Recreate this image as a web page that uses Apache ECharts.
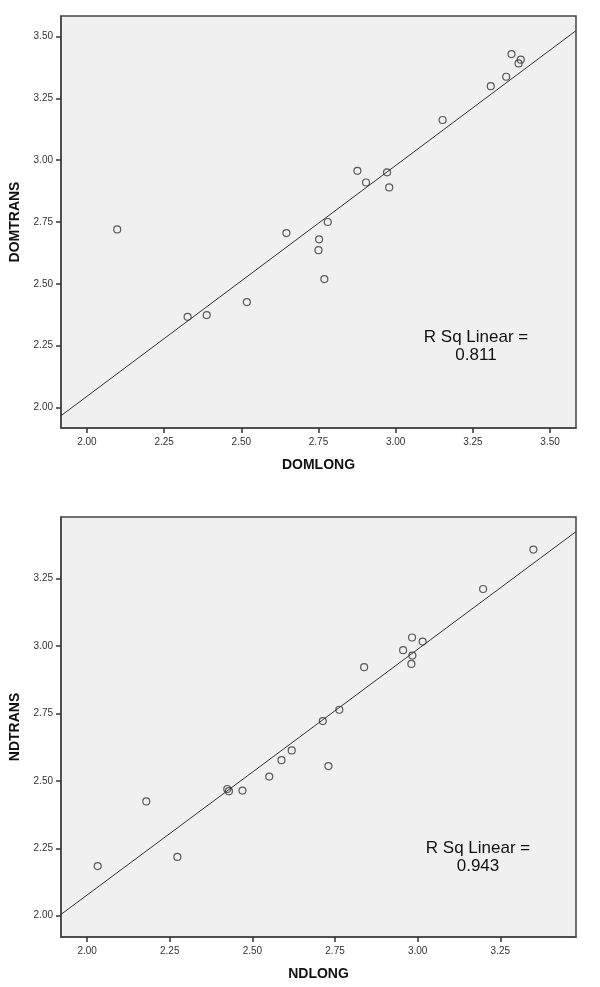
<!DOCTYPE html>
<html>
<head>
<meta charset="utf-8">
<script src="https://cdn.jsdelivr.net/npm/echarts@6/dist/echarts.min.js"></script>
<style>
html,body{margin:0;padding:0;background:#fff;}
#chart{width:600px;height:987px;}
</style>
</head>
<body>
<div id="chart"></div>
<script>
// ---- Data ----
const domLong  = [3.152,3.308,3.358,3.375,3.398,3.405,2.876,2.904,2.972,2.979,2.098,2.646,2.780,2.752,2.750,2.769,2.518,2.388,2.326];
const domTrans = [3.163,3.300,3.338,3.430,3.392,3.407,2.957,2.910,2.951,2.890,2.720,2.705,2.750,2.680,2.636,2.519,2.426,2.373,2.366];
const ndLong   = [3.350,3.198,2.983,3.015,2.956,2.984,2.981,2.838,2.763,2.713,2.619,2.588,2.730,2.551,2.424,2.429,2.470,2.179,2.032,2.273];
const ndTrans  = [3.358,3.212,3.032,3.017,2.985,2.965,2.934,2.922,2.764,2.722,2.613,2.577,2.555,2.516,2.470,2.462,2.464,2.424,2.184,2.218];
// fit lines [intercept, slope] as drawn
const domFit = [0.175, 0.9346];
const ndFit  = [0.254, 0.9114];
const domR2 = '0.811';
const ndR2  = '0.943';
// axis ranges and tick labels
const domRange = [1.916, 3.584];
const ndRange  = [1.921, 3.479];
const domTicks = [2.00,2.25,2.50,2.75,3.00,3.25,3.50];
const ndTicks  = [2.00,2.25,2.50,2.75,3.00,3.25];

const zip = (a,b) => a.map((v,i)=>[v,b[i]]);
const fitLine = (f, r) => [[r[0], f[0]+f[1]*r[0]], [r[1], f[0]+f[1]*r[1]]];

const FONT = 'Liberation Sans, Arial, sans-serif';
function axis(gi, name, range, ticks, isY){
  return {
    type:'value', gridIndex:gi, min:range[0], max:range[1],
    name:name, nameLocation:'middle', nameGap: isY?31:30,
    nameTextStyle:{fontFamily:FONT,fontWeight:'bold',fontSize:14,color:'#111'},
    axisLine:{show:true,onZero:false,lineStyle:{color:'#444',width:1.5}},
    axisTick:{show:true,length:5,customValues:ticks,lineStyle:{color:'#333',width:1.5}},
    axisLabel:{show:true,customValues:ticks,margin:isY?8:9,fontFamily:FONT,fontSize:10,color:'#333',
      formatter:v=>Number(v).toFixed(2)},
    splitLine:{show:false}
  };
}
const chart = echarts.init(document.getElementById('chart'));
const scatterStyle = {symbol:'circle',symbolSize:7,itemStyle:{color:'rgba(0,0,0,0)',borderColor:'#333',borderWidth:1.2}};
chart.setOption({
  animation:false,
  backgroundColor:'#fff',
  grid:[
    {left:61,top:16,width:515,height:412,show:true,backgroundColor:'#f0f0f0',borderColor:'#444',borderWidth:1.5},
    {left:61,top:517,width:515,height:420,show:true,backgroundColor:'#f0f0f0',borderColor:'#444',borderWidth:1.5}
  ],
  xAxis:[axis(0,'DOMLONG',domRange,domTicks,false), axis(1,'NDLONG',ndRange,ndTicks,false)],
  yAxis:[axis(0,'DOMTRANS',domRange,domTicks,true), axis(1,'NDTRANS',ndRange,ndTicks,true)],
  series:[
    {type:'line',xAxisIndex:0,yAxisIndex:0,data:fitLine(domFit,domRange),symbol:'none',lineStyle:{color:'#333',width:1},clip:true,silent:true},
    Object.assign({type:'scatter',xAxisIndex:0,yAxisIndex:0,data:zip(domLong,domTrans)},scatterStyle),
    {type:'line',xAxisIndex:1,yAxisIndex:1,data:fitLine(ndFit,ndRange),symbol:'none',lineStyle:{color:'#333',width:1},clip:true,silent:true},
    Object.assign({type:'scatter',xAxisIndex:1,yAxisIndex:1,data:zip(ndLong,ndTrans)},scatterStyle)
  ],
  graphic:[
    {type:'text',x:476,y:346,style:{text:'R Sq Linear =\n'+domR2,align:'center',verticalAlign:'middle',fontFamily:FONT,fontSize:17,lineHeight:18,fill:'#111'}},
    {type:'text',x:478,y:857,style:{text:'R Sq Linear =\n'+ndR2,align:'center',verticalAlign:'middle',fontFamily:FONT,fontSize:17,lineHeight:18,fill:'#111'}}
  ]
});
</script>
</body>
</html>
